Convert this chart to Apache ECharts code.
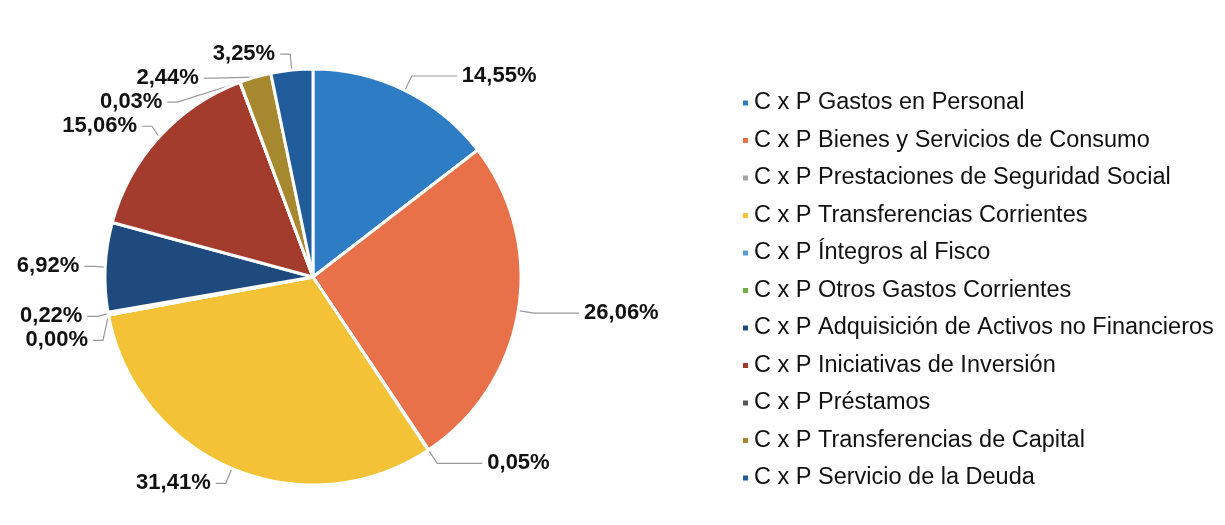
<!DOCTYPE html>
<html>
<head>
<meta charset="utf-8">
<script src="https://cdn.jsdelivr.net/npm/echarts@6/dist/echarts.min.js"></script>
<style>
  html, body { margin: 0; padding: 0; background: #fff; }
  #chart { width: 1225px; height: 525px; }
</style>
</head>
<body>
<div id="chart"></div>
<script>
// categorias y porcentajes
const categories = [
  'C x P Gastos en Personal',
  'C x P Bienes y Servicios de Consumo',
  'C x P Prestaciones de Seguridad Social',
  'C x P Transferencias Corrientes',
  'C x P Íntegros al Fisco',
  'C x P Otros Gastos Corrientes',
  'C x P Adquisición de Activos no Financieros',
  'C x P Iniciativas de Inversión',
  'C x P Préstamos',
  'C x P Transferencias de Capital',
  'C x P Servicio de la Deuda'
]
const shares = [14.55, 26.06, 0.05, 31.41, 0.00, 0.22, 6.92, 15.06, 0.03, 2.44, 3.25]

const palette = ['#2e7cc4', '#e8714a', '#a5a5a5', '#f4c236', '#5b9bd5', '#70ad47',
  '#1e4a7e', '#a43c2d', '#555555', '#a6882f', '#1f5c99']

const chart = echarts.init(document.getElementById('chart'))

// las etiquetas del lado derecho llevan la linea mas larga
const total = shares.reduce((a, b) => a + b, 0)
let acc = 0
const pieData = categories.map((name, i) => {
  const mid = (acc + shares[i] / 2) / total
  acc += shares[i]
  return {
    name: name,
    value: shares[i],
    labelLine: { length2: mid < 0.45 ? 45 : 10 }
  }
})

const option = {
  animation: false,
  color: palette,
  legend: {
    orient: 'vertical',
    left: 736,
    top: 86,
    icon: 'rect',
    itemWidth: 7,
    itemHeight: 7,
    itemGap: 13.5,
    textStyle: {
      fontFamily: 'Liberation Sans, Arial, sans-serif',
      fontSize: 23.5,
      lineHeight: 24,
      color: '#111'
    },
    data: categories
  },
  series: [
    {
      type: 'pie',
      center: [313, 277],
      radius: 208,
      startAngle: 90,
      clockwise: true,
      avoidLabelOverlap: true,
      itemStyle: {
        borderColor: '#fff',
        borderWidth: 3
      },
      label: {
        show: true,
        position: 'outside',
        overflow: 'none',
        fontFamily: 'Liberation Sans, Arial, sans-serif',
        fontWeight: 'bold',
        fontSize: 22,
        color: '#111',
        formatter: p => p.value.toFixed(2).replace('.', ',') + '%'
      },
      labelLine: {
        show: true,
        length: 16,
        length2: 10,
        lineStyle: { color: '#999', width: 1.2 }
      },
      data: pieData
    }
  ]
}

chart.setOption(option)
</script>
</body>
</html>
